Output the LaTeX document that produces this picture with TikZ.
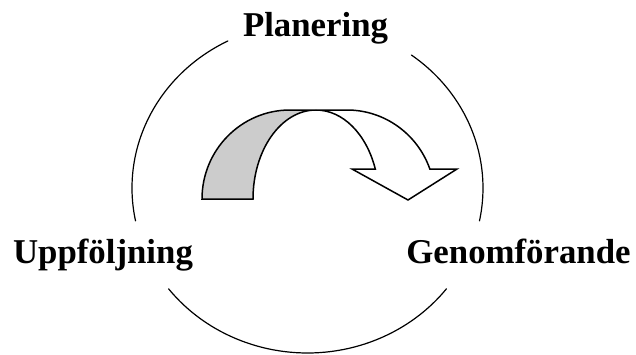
\documentclass[tikz,border=0pt]{standalone}
\usepackage{fontspec}
\setmainfont{Liberation Serif}
\begin{document}
\begin{tikzpicture}[x=1pt,y=1pt,
  ring/.style={line width=1.2pt, line cap=round},
  band/.style={line width=1.5pt, line join=miter},
  lbl/.style={inner sep=0pt, anchor=base, font=\fontsize{34.8}{40}\selectfont\bfseries}]
\useasboundingbox (0,0) rectangle (636,354);
% cycle ring (ellipse centre (307.5,166), rx 175.5, ry 165)
\coordinate (c) at (307.5,166);
\draw[ring] ([shift={(117:175.5 and 165)}]c) arc[start angle=117, end angle=191.5, x radius=175.5, y radius=165];
\draw[ring] ([shift={(53.7:175.5 and 165)}]c) arc[start angle=53.7, end angle=-11.5, x radius=175.5, y radius=165];
\draw[ring] ([shift={(217.7:175.5 and 165)}]c) arc[start angle=217.7, end angle=322.3, x radius=175.5, y radius=165];
% labels
\node[lbl] (plan) at (315.5,317) {Planering};
\node[lbl] (upp) at (103,91) {Uppföljning};
\node[lbl] (gen) at (518.5,91) {Genomförande};
% curved arrow: back (grey) face
\draw[band, fill=gray!40] (202,155) arc[start angle=180, end angle=90, x radius=88, y radius=89]
  -- (316,244) arc[start angle=90, end angle=180, x radius=63, y radius=89] -- cycle;
% front (white) face with head
\draw[band, fill=white] (316,244) -- (347,244)
  arc[start angle=90, end angle=19.7, x radius=88, y radius=89]
  -- (457,185) -- (408,154) -- (352,185) -- (375.3,185)
  arc[start angle=19.7, end angle=90, x radius=63, y radius=89] -- cycle;
\end{tikzpicture}
\end{document}
